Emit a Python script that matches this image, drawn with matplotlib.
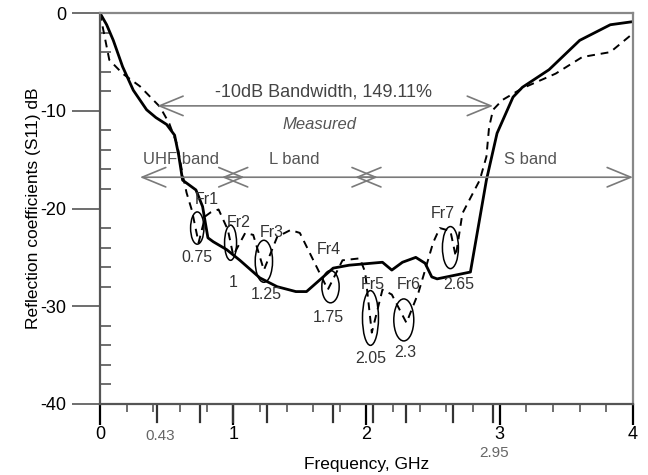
import matplotlib.pyplot as plt
from matplotlib.patches import Ellipse

plt.rcParams['font.family'] = ['Liberation Sans', 'DejaVu Sans']
plt.rcParams['axes.unicode_minus'] = False

# measured S11 (solid) and simulated (dashed), GHz / dB
solid_f = [0, 0.05, 0.1, 0.17, 0.25, 0.35, 0.42, 0.5, 0.56, 0.59, 0.62, 0.67, 0.72, 0.77,
           0.81, 0.85, 0.95, 1.05, 1.2, 1.33, 1.47, 1.55, 1.65, 1.75, 1.87, 2.12, 2.19,
           2.27, 2.37, 2.44, 2.49, 2.53, 2.78, 2.9, 2.98, 3.1, 3.17, 3.37, 3.6, 3.83,
           3.99, 4.0]
solid_db = [0, -1.2, -2.8, -5.5, -7.9, -9.9, -10.7, -11.4, -12.5, -14.5, -17.1, -17.6,
            -18.1, -19.8, -23.0, -23.4, -24.2, -25.3, -27.1, -28.0, -28.5, -28.5, -27.3,
            -26.1, -25.8, -25.5, -26.3, -25.5, -25.0, -25.6, -27.0, -27.2, -26.5, -17.1,
            -12.3, -8.6, -7.6, -5.8, -2.8, -1.2, -0.9, -0.9]

dashed_f = [0, 0.02, 0.07, 0.17, 0.3, 0.45, 0.52, 0.58, 0.62, 0.65, 0.69, 0.74, 0.79, 0.83,
            0.89, 0.96, 1.0, 1.09, 1.15, 1.23, 1.33, 1.43, 1.5, 1.71, 1.82, 1.95, 1.99, 2.04,
            2.12, 2.19, 2.3, 2.39, 2.44, 2.5, 2.55, 2.63, 2.67, 2.72, 2.8, 2.85, 2.9, 2.92,
            2.95, 3.02, 3.17, 3.42, 3.62, 3.83, 3.99, 4.0]
dashed_db = [0, -1.4, -4.8, -6.2, -7.5, -9.6, -11.3, -13.5, -16.5, -18.4, -20.2, -23.5, -20.8,
             -20.4, -20.1, -22.2, -24.8, -22.5, -22.7, -26.3, -22.9, -22.2, -22.5, -28.3, -25.3,
             -25.1, -26.5, -32.7, -28.3, -28.8, -31.7, -28.6, -26.3, -23.5, -22.0, -22.3, -24.9,
             -20.5, -18.4, -17.1, -14.7, -11.7, -9.9, -8.9, -7.7, -6.2, -4.5, -4.0, -2.2, -2.0]

# resonance markers
fr_names = ['Fr1', 'Fr2', 'Fr3', 'Fr4', 'Fr5', 'Fr6', 'Fr7']
fr_freq = [0.75, 1, 1.25, 1.75, 2.05, 2.3, 2.65]
fr_db = [-22.0, -23.5, -25.4, -28.0, -31.2, -31.4, -24.0]

band_names = ['UHF band', 'L band', 'S band']
band_edges = [0.3, 1.0, 2.0, 4.0]
bw_low, bw_high = 0.43, 2.95
bw_text = '-10dB Bandwidth, 149.11%'

gray = '#7a7a7a'
txt_gray = '#555555'

fig = plt.figure(figsize=(6.48, 4.75), dpi=100)
ax = fig.add_axes([0.1543, 0.1495, 0.8225, 0.8231])

ax.plot(solid_f, solid_db, color='black', lw=2.0)
ax.plot(dashed_f, dashed_db, color='black', lw=1.4, dashes=(4, 3))

ax.set_xlim(0, 4)
ax.set_ylim(-40, 0)


def double_arrow(x0, x1, y, hl=1.7, hw=0.7):
    ax.annotate('', xy=(x1, y), xytext=(x0, y),
                arrowprops=dict(arrowstyle=f'<->,head_length={hl},head_width={hw}',
                                color=gray, lw=1.2, shrinkA=0, shrinkB=0,
                                mutation_scale=10))


# -10 dB bandwidth
double_arrow(bw_low, bw_high, -9.5)
ax.text(1.68, -8.1, bw_text, ha='center', va='center', fontsize=13, color='#444444')
ax.text(1.65, -11.4, 'Measured', ha='center', va='center', fontsize=12,
        style='italic', color=txt_gray)

# band arrows, heads overlap into an X at the shared edges
hx = 0.085
for i, name in enumerate(band_names):
    x0 = band_edges[i] - (hx if i > 0 else 0)
    x1 = band_edges[i + 1] + (hx if i < len(band_names) - 1 else 0)
    double_arrow(x0, x1, -16.8)
ax.text(0.61, -15.0, band_names[0], ha='center', va='center', fontsize=12, color=txt_gray)
ax.text(1.46, -15.0, band_names[1], ha='center', va='center', fontsize=12, color=txt_gray)
ax.text(3.23, -15.0, band_names[2], ha='center', va='center', fontsize=12, color=txt_gray)

# ellipses around each resonance dip
ell_w = [0.1, 0.09, 0.13, 0.13, 0.12, 0.15, 0.12]
ell_h = [3.3, 3.6, 4.3, 3.3, 5.6, 4.3, 4.3]
name_dx = [0.05, 0.04, 0.04, -0.03, 0.0, 0.02, -0.08]
name_dy = [2.9, 2.1, 2.9, 3.8, 3.4, 3.6, 3.5]
val_dx = [-0.02, 0.0, 0.0, -0.04, -0.02, -0.01, 0.04]
val_dy = [-3.0, -4.1, -3.4, -3.2, -4.1, -3.3, -3.8]
for i, name in enumerate(fr_names):
    f, d = fr_freq[i], fr_db[i]
    ax.add_patch(Ellipse((f - 0.02, d), ell_w[i], ell_h[i], fill=False,
                         edgecolor='black', lw=1.1))
    ax.text(f + name_dx[i], d + name_dy[i], name, ha='center', va='center',
            fontsize=11.5, color='#333333')
    ax.text(f + val_dx[i], d + val_dy[i], f'{fr_freq[i]:g}', ha='center', va='center',
            fontsize=11.5, color='#333333')

# axes styling
ax.set_xticks([0, 1, 2, 3, 4])
ax.set_xticks([x / 5 for x in range(1, 20)], minor=True)
ax.set_yticks([0, -10, -20, -30, -40])
ax.set_yticks(list(range(-38, 0, 2)), minor=True)
ax.tick_params(axis='x', which='major', direction='out', length=15, width=1.6,
               labelsize=13, pad=1)
ax.tick_params(axis='x', which='minor', direction='out', length=6, width=1.2, color='#555555')
ax.tick_params(axis='y', which='major', direction='out', length=20, width=1.2,
               labelsize=13, pad=4, color='#555555')
ax.tick_params(axis='y', which='minor', direction='in', length=8, width=1.2, color='#555555')

# longer ticks at the marked frequencies
for f in [bw_low] + fr_freq + [bw_high]:
    ax.plot([f, f], [-0.004, -0.045], transform=ax.get_xaxis_transform(), color='#333333',
            lw=1.6, clip_on=False)
ax.text(bw_low + 0.02, -0.082, f'{bw_low:g}', transform=ax.get_xaxis_transform(),
        ha='center', va='center', fontsize=11, color='#666666')
ax.text(bw_high + 0.01, -0.125, f'{bw_high:g}', transform=ax.get_xaxis_transform(),
        ha='center', va='center', fontsize=11, color='#666666')

for s in ['top', 'right']:
    ax.spines[s].set_color('#888888')
    ax.spines[s].set_linewidth(1.6)
for s in ['left', 'bottom']:
    ax.spines[s].set_color('#555555')
    ax.spines[s].set_linewidth(1.6)

ax.set_xlabel('Frequency, GHz', fontsize=12.5, labelpad=10)
ax.set_ylabel('Reflection coefficients (S11) dB', fontsize=12.5, labelpad=0)

fig.savefig('out.png', dpi=100)
